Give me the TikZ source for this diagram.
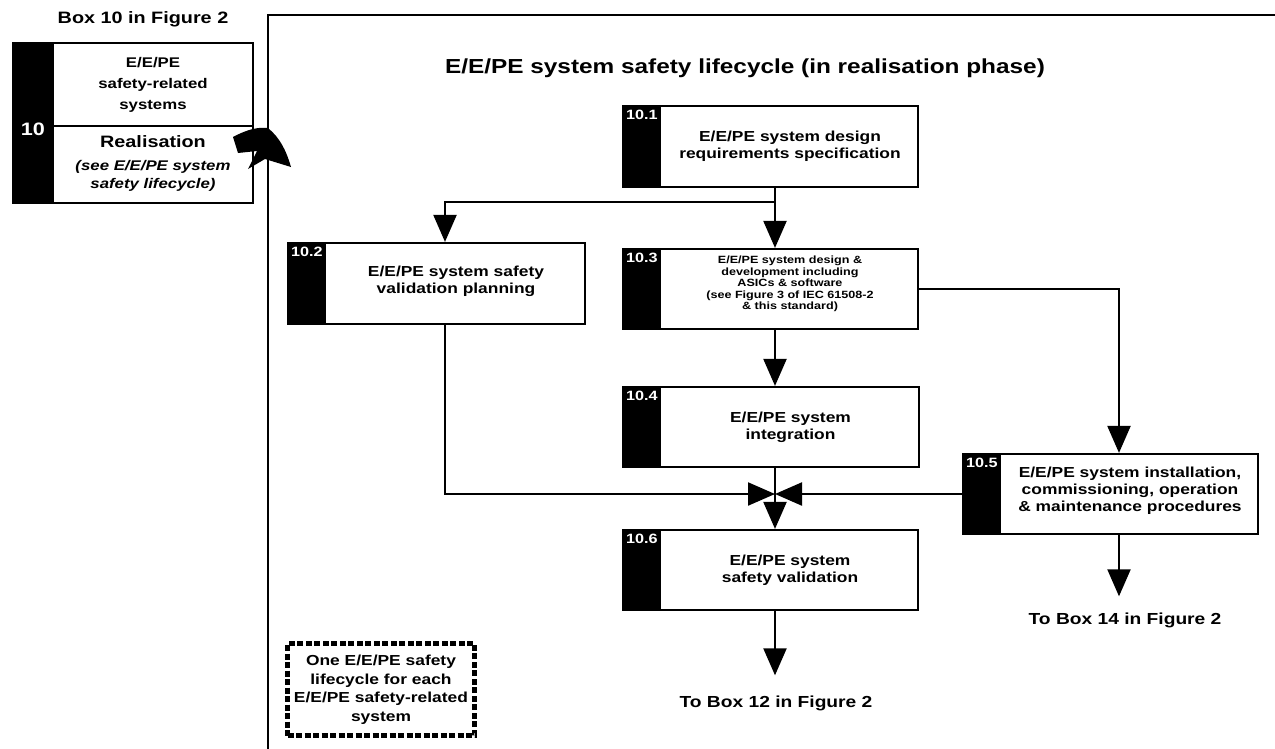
\documentclass[tikz,border=0pt]{standalone}
\usepackage{fontspec}
\setmainfont{Liberation Sans}[FakeStretch=1.2]
\usetikzlibrary{arrows.meta,calc}
\tikzset{
  box/.style={draw, line width=2.2pt, fill=white, inner sep=0pt},
  num/.style={text=white, font=\bfseries\fontsize{13.5}{14}\selectfont, inner sep=0pt},
  txt/.style={align=center, font=\bfseries\fontsize{14.5}{17}\selectfont, inner sep=0pt},
  smalltxt/.style={align=center, font=\bfseries\fontsize{10.5}{11.4}\selectfont, inner sep=0pt},
  lbl/.style={font=\bfseries\fontsize{16}{19}\selectfont, inner sep=0pt},
  arr/.style={line width=2.2pt, -{Triangle[width=23pt,length=27pt]}},
}
\newcommand\lcbox[8]{% name, cx, cy, w, h, number, text style, text
  \node[box, minimum width=#4pt, minimum height=#5pt] (#1) at (#2,#3) {};
  \fill (#1.north west) rectangle ([shift={(39,0)}]#1.south west);
  \node[num] (#1n) at ([shift={(20,10)}]#1.north west) {#6};
  \node[#7] (#1t) at ([shift={(19.5,0)}]#1.center) {#8};
}
\begin{document}
\begin{tikzpicture}[x=1pt,y=-1pt]
\useasboundingbox (0,0) rectangle (1275,748);
% frame
\draw[line width=2.5pt] (268,760) -- (268,15) -- (1290,15);
% box 10
\node[lbl, font=\bfseries\fontsize{16.5}{19}\selectfont] (box10title) at (143,19) {Box 10 in Figure 2};
\node[box, minimum width=240pt, minimum height=83pt] (b10u) at (133,84.5) {};
\node[box, minimum width=240pt, minimum height=77pt] (b10l) at (133,164.5) {};
\fill (b10u.north west) rectangle ([shift={(42,0)}]b10l.south west);
\node[text=white, font=\bfseries\fontsize{18}{20}\selectfont, inner sep=0pt] (n10) at (33,129) {10};
\node[align=center, font=\bfseries\fontsize{14}{21}\selectfont, inner sep=0pt] (b10ut) at (153,85) {E/E/PE\\safety-related\\systems};
\node[font=\bfseries\fontsize{16.5}{19}\selectfont, inner sep=0pt] (b10real) at (153,142) {Realisation};
\node[align=center, font=\bfseries\itshape\fontsize{14}{18}\selectfont, inner sep=0pt] (b10see) at (153,176) {(see E/E/PE system\\safety lifecycle)};
% title
\node[font=\bfseries\fontsize{20.3}{24}\selectfont, inner sep=0pt] (title) at (745,68) {E/E/PE system safety lifecycle (in realisation phase)};
% boxes
\lcbox{b1}{770.5}{146.5}{295}{81}{10.1}{txt}{E/E/PE system design\\requirements specification}
\lcbox{b2}{436.5}{283.5}{297}{81}{10.2}{txt, yshift=2pt}{E/E/PE system safety\\validation planning}
\lcbox{b3}{770.5}{289}{295}{80}{10.3}{smalltxt, yshift=5pt}{E/E/PE system design \&\\development including\\ASICs \& software\\(see Figure 3 of IEC 61508-2\\\& this standard)}
\lcbox{b4}{771}{427}{296}{80}{10.4}{txt}{E/E/PE system\\integration}
\lcbox{b5}{1110.5}{494}{295}{80}{10.5}{txt, yshift=3pt}{E/E/PE system installation,\\commissioning, operation\\\& maintenance procedures}
\lcbox{b6}{770.5}{570}{295}{80}{10.6}{txt}{E/E/PE system\\safety validation}
% outputs
\node[lbl] (to14) at (1125,620) {To Box 14 in Figure 2};
\node[lbl] (to12) at (776,703) {To Box 12 in Figure 2};
% note
\node[draw, line width=4.5pt, dash pattern=on 6pt off 2.5pt, minimum width=187pt, minimum height=92pt, align=center, inner sep=0pt, font=\bfseries\fontsize{14.5}{18.5}\selectfont] (note) at (381,689.5) {One E/E/PE safety\\lifecycle for each\\E/E/PE safety-related\\system};
% coordinates
\coordinate (tr) at (775,0);
\coordinate (xl) at (445,0);
\coordinate (xr) at (1119,0);
\coordinate (j1) at (775,202);
\coordinate (j2) at (775,494);
% connectors
\draw[arr] (b1.south -| tr) -- (b3.north -| tr);
\draw[arr] (j1) -| (b2.north -| xl);
\draw[arr] (b3.south -| tr) -- (b4.north -| tr);
\draw[arr] (b3.east) -| (b5.north -| xr);
\draw[arr] (b2.south -| xl) |- (j2);
\draw[arr] (b5.west) -- (j2);
\draw[arr] (b4.south -| tr) -- (b6.north -| tr);
\draw[arr, shorten >=16pt] (b5.south -| xr) -- (to14.north -| xr);
\draw[arr, shorten >=20pt] (b6.south -| tr) -- (to12.north -| tr);
% curved arrow
\fill (233,137) .. controls (248,129) and (258,127) .. (268,128)
  .. controls (280,138) and (286,150) .. (291,167)
  -- (265,159) -- (248,169) -- (257,151) -- (238,153) -- cycle;
\end{tikzpicture}
\end{document}
